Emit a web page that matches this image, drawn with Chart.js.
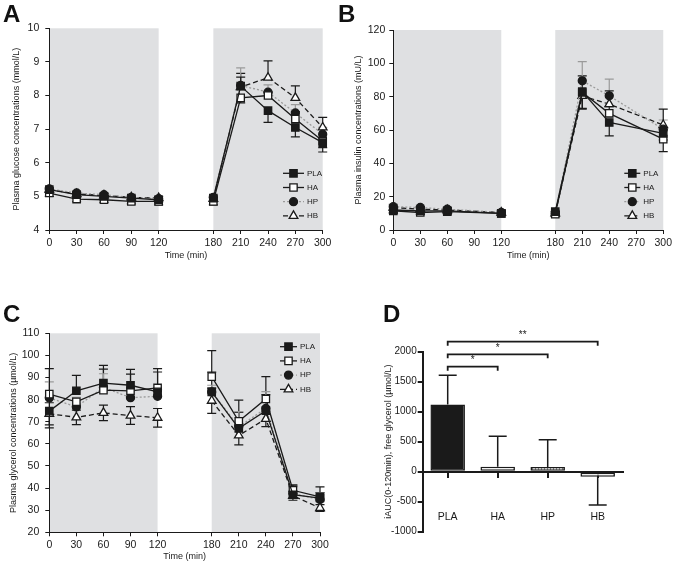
<!DOCTYPE html>
<html>
<head>
<meta charset="utf-8">
<script src="https://cdn.jsdelivr.net/npm/chart.js@4.4.1/dist/chart.umd.min.js"></script>
<style>
  body { margin: 0; background: #fff; }
  #fig { position: relative; width: 675px; height: 563px; overflow: hidden; }
  #fig canvas { position: absolute; }
  .tag { position: absolute; font: bold 24px "Liberation Sans", Arial, sans-serif; line-height: 24px; color: #111; }
</style>
</head>
<body>
<div id="fig">
  <canvas id="chartA" width="337" height="268" style="left:0;top:0"></canvas>
  <canvas id="chartB" width="338" height="268" style="left:337px;top:0"></canvas>
  <canvas id="chartC" width="337" height="273" style="left:0;top:290px"></canvas>
  <canvas id="chartD" width="338" height="273" style="left:337px;top:290px"></canvas>
  <div class="tag" style="left:3px;top:2px">A</div>
  <div class="tag" style="left:338px;top:2px">B</div>
  <div class="tag" style="left:3px;top:302px">C</div>
  <div class="tag" style="left:383px;top:302px">D</div>
</div>
<script>
// time axis (min)
const timeTicks = [0, 30, 60, 90, 120, 180, 210, 240, 270, 300];
const timeFull = [0, 30, 60, 90, 120, 180, 210, 240, 270, 300];
const timeInsulin = [0, 30, 60, 120, 180, 210, 240, 300];
const shadedPhases = [[0, 120], [180, 300]];
const groups = ['PLA', 'HA', 'HP', 'HB'];

// A - plasma glucose (mmol/L); signed errors: + drawn up, - drawn down
const glucosePLA = [5.2, 5.05, 5.0, 4.95, 4.9, 4.95, 8.28, 7.55, 7.05, 6.6];
const glucoseHA = [5.1, 4.92, 4.9, 4.85, 4.85, 4.85, 7.93, 8.0, 7.3, 6.65];
const glucoseHP = [5.22, 5.1, 5.05, 4.97, 4.93, 4.97, 8.3, 8.1, 7.48, 6.85];
const glucoseHB = [5.2, 5.07, 5.03, 4.97, 4.95, 4.93, 8.25, 8.53, 7.93, 7.05];
const glucoseErrPLA = [-0.08, -0.06, -0.06, -0.05, -0.07, -0.07, 0.38, -0.35, -0.28, -0.28];
const glucoseErrHA = [-0.1, -0.08, -0.08, -0.07, -0.1, -0.1, -0.15, 0.1, 0.22, -0.2];
const glucoseErrHP = [0.05, 0.05, 0.05, 0.04, 0.05, 0.05, 0.52, 0.22, 0.25, 0.2];
const glucoseErrHB = [0.05, 0.05, 0.05, 0.04, 0.05, 0.05, 0.3, 0.5, 0.36, 0.3];

// B - plasma insulin (mU/L)
const insulinPLA = [12, 11.5, 11.5, 10, 11, 83, 64.5, 58];
const insulinHA = [11.5, 10.5, 11, 10, 9.5, 82.5, 70, 54.5];
const insulinHP = [14, 13.5, 12.5, 10.5, 10, 89.5, 80.5, 60.5];
const insulinHB = [13.5, 12.5, 12, 10.5, 10, 80.5, 75.5, 63];
const insulinErrPLA = [-1.5, -1.2, -1.2, -1, -1.5, -10, -8, -4];
const insulinErrHA = [-1.5, -1.2, -1.2, -1, -1.5, 10, 4, -7.5];
const insulinErrHP = [1.5, 1.5, 1.2, 1, 1, 11.5, 10, 5.5];
const insulinErrHB = [1.5, 1.5, 1.2, 1, 1, -8, 8, 9.5];

// C - plasma glycerol (umol/L), HB error bars drawn both ways
const glycerolPLA = [74.8, 84, 87.5, 86.5, 83.5, 83.5, 67, 75, 37, 35.5];
const glycerolHA = [82.5, 79, 84.3, 84, 85.3, 90.4, 70.2, 80.3, 39, 36];
const glycerolHP = [80.8, 76.7, 85.5, 80.9, 81.5, 83.5, 67.8, 76, 37.5, 34.8];
const glycerolHB = [73.6, 72, 74, 72.8, 71.8, 79.5, 63.8, 71.3, 36.5, 31];
const glycerolErrPLA = [-7.6, 7, 8, 7.2, 10.5, 18.7, 12.8, 15.4, 4, 5];
const glycerolErrHA = [11.5, -2, 9.5, 7.5, 7.2, 2, 4, 2, 2.5, 2];
const glycerolErrHP = [7.2, 4.3, 6.2, 3, 3, 3, 6.8, 7.6, 3, 3];
const glycerolErrHB = [5, 3.3, 3.5, 4, 4.2, 5.7, 4.3, 3.5, 2, 1.5];

// D - iAUC(0-120min) free glycerol
const aucMeans = [1118, 83, 80, -83];
const aucErr = [490, 507, 454, -472];
const bracketPairs = [[0, 1], [0, 2], [0, 3]];
const bracketLevels = [1750, 1956, 2167];
const bracketMarks = ['*', '*', '**'];

const FONT = '"Liberation Sans", Arial, sans-serif';
const INK = '#1a1a1a';
const tickFont = { family: FONT, size: 10.5 };
const titleFont = { family: FONT, size: 9 };

const groupStyle = {
  PLA: { pointStyle: 'rect', radius: 5.2, fill: INK, line: INK, dash: [], err: INK },
  HA: { pointStyle: 'rect', radius: 5.2, fill: '#fff', line: INK, dash: [], err: INK },
  HP: { pointStyle: 'circle', radius: 4, fill: INK, line: '#9a9a9a', dash: [2, 2], err: '#9a9a9a' },
  HB: { pointStyle: 'triangle', radius: 5, fill: '#fff', line: INK, dash: [5, 3], err: INK }
};

function series(name, xs, ys, errs, both) {
  const st = groupStyle[name];
  return {
    label: name,
    data: xs.map((x, i) => ({ x: x, y: ys[i] })),
    err: errs,
    errBoth: !!both,
    errColor: st.err,
    borderColor: st.line,
    borderWidth: 1.3,
    borderDash: st.dash,
    pointStyle: st.pointStyle,
    pointRadius: st.radius,
    pointBackgroundColor: st.fill,
    pointBorderColor: INK,
    pointBorderWidth: 1.3,
    fill: false,
    tension: 0,
    clip: false,
    // no line across the 120-180 gap
    segment: { borderColor: ctx => ctx.p0.parsed.x === 120 ? 'rgba(0,0,0,0)' : undefined }
  };
}

function drawMarker(ctx, style, radius, x, y) {
  if (Chart.helpers && Chart.helpers.drawPoint) {
    Chart.helpers.drawPoint(ctx, { pointStyle: style, radius: radius, rotation: 0, borderWidth: 1.3 }, x, y);
    return;
  }
  ctx.beginPath();
  ctx.arc(x, y, radius, 0, Math.PI * 2);
  ctx.fill();
  ctx.stroke();
}

const timeCoursePlugin = {
  id: 'timeCourse',
  beforeDraw(chart) {
    const { ctx, chartArea: a, scales: { x } } = chart;
    ctx.save();
    ctx.fillStyle = '#dfe0e2';
    shadedPhases.forEach(([s, e]) => {
      const x0 = x.getPixelForValue(s), x1 = x.getPixelForValue(e);
      ctx.fillRect(x0, a.top, x1 - x0, a.bottom - a.top);
    });
    ctx.restore();
  },
  beforeDatasetsDraw(chart) {
    const { ctx, scales: { y } } = chart;
    ctx.save();
    ctx.lineWidth = 1.2;
    chart.data.datasets.forEach((ds, di) => {
      const meta = chart.getDatasetMeta(di);
      ctx.strokeStyle = ds.errColor;
      ds.err.forEach((e, i) => {
        if (!e) return;
        const p = meta.data[i];
        const v = ds.data[i].y;
        const ends = ds.errBoth ? [v + e, v - e] : [v + e];
        ends.forEach(end => {
          const yy = y.getPixelForValue(end);
          ctx.beginPath();
          ctx.moveTo(p.x, p.y);
          ctx.lineTo(p.x, yy);
          ctx.moveTo(p.x - 4.5, yy);
          ctx.lineTo(p.x + 4.5, yy);
          ctx.stroke();
        });
      });
    });
    ctx.restore();
  },
  afterDatasetsDraw(chart, args, opts) {
    const ctx = chart.ctx;
    ctx.save();
    chart.data.datasets.forEach((ds, i) => {
      const yy = opts.y + i * opts.dy;
      ctx.strokeStyle = ds.borderColor;
      ctx.lineWidth = 1.3;
      ctx.setLineDash(ds.borderDash);
      ctx.beginPath();
      ctx.moveTo(opts.x, yy);
      ctx.lineTo(opts.x + opts.len, yy);
      ctx.stroke();
      ctx.setLineDash([]);
      ctx.fillStyle = ds.pointBackgroundColor;
      ctx.strokeStyle = INK;
      drawMarker(ctx, ds.pointStyle, ds.pointRadius, opts.x + opts.len / 2, yy);
      ctx.fillStyle = INK;
      ctx.font = '8px ' + FONT;
      ctx.textBaseline = 'middle';
      ctx.fillText(ds.label, opts.x + opts.len + 3, yy);
    });
    ctx.restore();
  }
};

function lineOptions(p) {
  return {
    responsive: false,
    animation: false,
    events: [],
    layout: { padding: { left: 0, top: p.top, right: p.right, bottom: 0 } },
    plugins: { legend: { display: false }, tooltip: { enabled: false }, timeCourse: p.legend },
    scales: {
      x: {
        type: 'linear', min: 0, max: 300,
        afterFit: s => { s.height = p.xHeight; },
        afterBuildTicks: s => { s.ticks = timeTicks.map(v => ({ value: v })); },
        grid: { drawOnChartArea: false, tickLength: 4, color: INK },
        border: { color: INK, width: 1, z: 1 },
        ticks: { padding: 3, color: INK, font: tickFont, maxRotation: 0, autoSkip: false },
        title: { display: true, text: 'Time (min)', color: INK, font: titleFont, padding: { top: 0, bottom: p.xTitlePad } }
      },
      y: {
        min: p.yMin, max: p.yMax,
        afterFit: s => { s.width = p.left; },
        grid: { drawOnChartArea: false, tickLength: 4, color: INK },
        border: { color: INK, width: 1, z: 1 },
        ticks: { stepSize: p.yStep, padding: p.yTickPad, color: INK, font: tickFont },
        title: { display: true, text: p.yTitle, color: INK, font: titleFont, padding: { top: p.yTitlePad, bottom: 0 } }
      }
    }
  };
}

new Chart(document.getElementById('chartA'), {
  type: 'line',
  data: { datasets: [
    series('PLA', timeFull, glucosePLA, glucoseErrPLA),
    series('HA', timeFull, glucoseHA, glucoseErrHA),
    series('HP', timeFull, glucoseHP, glucoseErrHP),
    series('HB', timeFull, glucoseHB, glucoseErrHB)
  ] },
  options: lineOptions({
    top: 28.3, right: 14.3, left: 49.3, xHeight: 38, xTitlePad: 6.6,
    yMin: 4, yMax: 10, yStep: 1, yTickPad: 6, yTitlePad: 11.3,
    yTitle: 'Plasma glucose concentrations (mmol/L)',
    legend: { x: 283, y: 173.3, dy: 14.2, len: 21 }
  }),
  plugins: [timeCoursePlugin]
});

new Chart(document.getElementById('chartB'), {
  type: 'line',
  data: { datasets: [
    series('PLA', timeInsulin, insulinPLA, insulinErrPLA),
    series('HA', timeInsulin, insulinHA, insulinErrHA),
    series('HP', timeInsulin, insulinHP, insulinErrHP),
    series('HB', timeInsulin, insulinHB, insulinErrHB)
  ] },
  options: lineOptions({
    top: 30, right: 10.7, left: 56.3, xHeight: 38, xTitlePad: 6.6,
    yMin: 0, yMax: 120, yStep: 20, yTickPad: 4, yTitlePad: 15.9,
    yTitle: 'Plasma insulin concentrations (mU/L)',
    legend: { x: 287.3, y: 173.3, dy: 14.2, len: 16 }
  }),
  plugins: [timeCoursePlugin]
});

new Chart(document.getElementById('chartC'), {
  type: 'line',
  data: { datasets: [
    series('PLA', timeFull, glycerolPLA, glycerolErrPLA),
    series('HA', timeFull, glycerolHA, glycerolErrHA),
    series('HP', timeFull, glycerolHP, glycerolErrHP),
    series('HB', timeFull, glycerolHB, glycerolErrHB, true)
  ] },
  options: lineOptions({
    top: 43.3, right: 17, left: 49.3, xHeight: 30.7, xTitlePad: 0.9,
    yMin: 20, yMax: 110, yStep: 10, yTickPad: 6, yTitlePad: 8.6,
    yTitle: 'Plasma glycerol concentrations (\u00b5mol/L)',
    legend: { x: 280, y: 56.7, dy: 14.2, len: 17 }
  }),
  plugins: [timeCoursePlugin]
});

// D - bar chart with hatched HP bar
const ctxD = document.getElementById('chartD').getContext('2d');
const tile = document.createElement('canvas');
tile.width = 3; tile.height = 3;
const tg = tile.getContext('2d');
tg.fillStyle = '#fff'; tg.fillRect(0, 0, 3, 3);
tg.fillStyle = '#555'; tg.fillRect(0, 0, 1, 3);
const hatch = ctxD.createPattern(tile, 'repeat');

const barExtrasPlugin = {
  id: 'barExtras',
  afterDatasetsDraw(chart) {
    const { ctx, scales: { x, y } } = chart;
    const meta = chart.getDatasetMeta(0);
    ctx.save();
    ctx.strokeStyle = INK;
    ctx.lineWidth = 1.5;
    aucErr.forEach((e, i) => {
      const p = meta.data[i];
      const yy = y.getPixelForValue(aucMeans[i] + e);
      ctx.beginPath();
      ctx.moveTo(p.x, p.y);
      ctx.lineTo(p.x, yy);
      ctx.moveTo(p.x - 9, yy);
      ctx.lineTo(p.x + 9, yy);
      ctx.stroke();
    });
    // significance brackets
    ctx.lineWidth = 1.8;
    ctx.fillStyle = INK;
    ctx.font = '10px ' + FONT;
    ctx.textAlign = 'center';
    ctx.textBaseline = 'bottom';
    bracketPairs.forEach(([a, b], k) => {
      const x0 = x.getPixelForValue(a), x1 = x.getPixelForValue(b);
      const yy = y.getPixelForValue(bracketLevels[k]);
      ctx.beginPath();
      ctx.moveTo(x0, yy + 4);
      ctx.lineTo(x0, yy);
      ctx.lineTo(x1, yy);
      ctx.lineTo(x1, yy + 4);
      ctx.stroke();
      ctx.fillText(bracketMarks[k], (x0 + x1) / 2, yy - 1);
    });
    ctx.restore();
  }
};

new Chart(ctxD, {
  type: 'bar',
  data: {
    labels: groups,
    datasets: [{
      data: aucMeans,
      backgroundColor: [INK, '#fff', hatch, '#fff'],
      borderColor: INK,
      borderWidth: 1.5,
      borderSkipped: false,
      barPercentage: 0.69,
      categoryPercentage: 1
    }]
  },
  options: {
    responsive: false,
    animation: false,
    events: [],
    layout: { padding: { left: 0, top: 61.7, right: 52.3, bottom: 31.3 } },
    plugins: { legend: { display: false }, tooltip: { enabled: false } },
    scales: {
      x: {
        position: { y: 0 },
        grid: { offset: false, drawOnChartArea: false, tickLength: 5, lineWidth: 2, color: INK },
        border: { color: INK, width: 2, z: 1 },
        ticks: { padding: 34, color: INK, font: tickFont }
      },
      y: {
        min: -1000, max: 2000,
        afterFit: s => { s.width = 85.7; },
        grid: { drawOnChartArea: false, tickLength: 5, lineWidth: 2, color: INK },
        border: { color: INK, width: 2, z: 1 },
        ticks: { stepSize: 500, padding: 1, color: INK, font: { family: FONT, size: 10 }, callback: v => String(v) },
        title: { display: true, text: 'iAUC(0-120min), free glycerol (\u00b5mol/L)', color: INK, font: titleFont, padding: { top: 46.6, bottom: 0 } }
      }
    }
  },
  plugins: [barExtrasPlugin]
});
</script>
</body>
</html>
